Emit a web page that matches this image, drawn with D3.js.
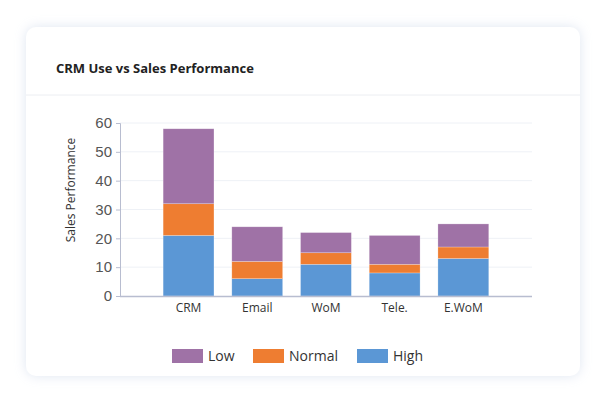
<!DOCTYPE html><html><head><meta charset="utf-8"><script src="https://cdn.jsdelivr.net/npm/d3@7"></script>
<style>body{margin:0;background:#fff;font-family:"Open Sans",sans-serif}</style></head><body><svg id="c" width="607" height="402"></svg>
<script>
const categories=["CRM","Email","WoM","Tele.","E.WoM"];
const high=[21,6,11,8,13];
const normal=[11,6,4,3,4];
const low=[26,12,7,10,8];
const yTicks=[0,10,20,30,40,50,60];
const seriesNames=["Low","Normal","High"];
const colors={High:"#5b97d5",Normal:"#ee7d31",Low:"#9f72a6"};
const svg=d3.select("#c");
const defs=svg.append("defs");
const f=defs.append("filter").attr("id","sh").attr("x","-10%").attr("y","-10%").attr("width","120%").attr("height","120%");
f.append("feDropShadow").attr("dx",0).attr("dy",0).attr("stdDeviation",6).attr("flood-color","#b8c8e0").attr("flood-opacity",0.45);
svg.append("rect").attr("x",26).attr("y",27).attr("width",554).attr("height",349).attr("rx",10).attr("fill","#fff").attr("filter","url(#sh)");
svg.append("text").attr("x",56).attr("y",73).text("CRM Use vs Sales Performance").attr("font-size",13).attr("font-weight","bold").attr("fill","#222");
svg.append("line").attr("x1",26).attr("x2",580).attr("y1",95).attr("y2",95).attr("stroke","#eceef2");
const y=d3.scaleLinear().domain([0,60]).range([296,123]);
const x=d3.scaleBand().domain(categories).range([154.2,497.7]).paddingInner(0.26).paddingOuter(0.13);
const g=svg.append("g");
yTicks.slice(1).forEach(t=>g.append("line").attr("x1",120).attr("x2",532).attr("y1",y(t)).attr("y2",y(t)).attr("stroke","#eef1f6"));
const data=categories.map((c,i)=>({cat:c,High:high[i],Normal:normal[i],Low:low[i]}));
const stack=d3.stack().keys(["High","Normal","Low"])(data);
stack.forEach(s=>g.selectAll(null).data(s).enter().append("rect")
 .attr("x",d=>x(d.data.cat)).attr("width",x.bandwidth())
 .attr("y",d=>y(d[1])).attr("height",d=>y(d[0])-y(d[1]))
 .attr("fill",colors[s.key]).attr("stroke","#fff").attr("stroke-opacity",0.4).attr("stroke-width",0.6));
const ya=g.append("g").attr("transform","translate(120,0)").call(d3.axisLeft(y).tickValues(yTicks).tickSize(4).tickPadding(4));
ya.select(".domain").attr("stroke","#b8bdd0");ya.selectAll(".tick line").attr("stroke","#b8bdd0");
ya.selectAll("text").attr("font-size",15).attr("fill","#555");
g.append("line").attr("x1",120).attr("x2",532).attr("y1",296.5).attr("y2",296.5).attr("stroke","#b8bdd0").attr("stroke-width",1.5);
categories.forEach(c=>g.append("text").attr("x",x(c)+x.bandwidth()/2).attr("y",312).attr("text-anchor","middle").attr("font-size",12).attr("fill","#333").text(c));
svg.append("text").attr("transform","translate(75,190) rotate(-90)").attr("text-anchor","middle").attr("font-size",12).attr("fill","#333").text("Sales Performance");
const lx=[172,253,357];
seriesNames.forEach((n,i)=>{svg.append("rect").attr("x",lx[i]).attr("y",349).attr("width",31).attr("height",14).attr("fill",colors[n]);
 svg.append("text").attr("x",lx[i]+36).attr("y",361).attr("font-size",14).attr("fill","#333").text(n);});
</script></body></html>
